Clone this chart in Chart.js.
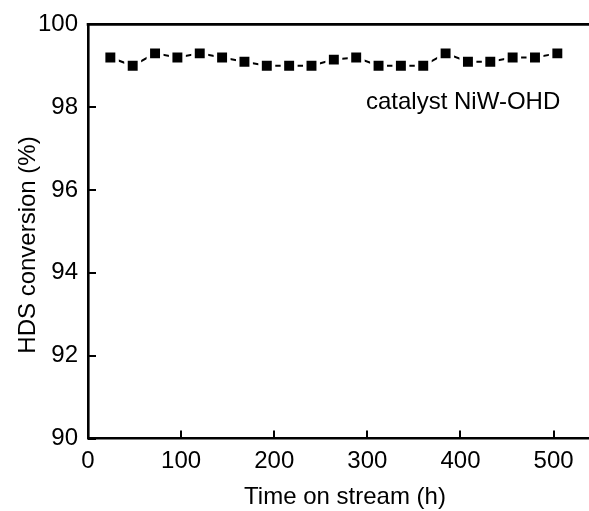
<!DOCTYPE html>
<html>
<head>
<meta charset="utf-8">
<script src="https://cdn.jsdelivr.net/npm/chart.js@4"></script>
<style>
  html, body { margin: 0; padding: 0; background: #fff; }
  canvas { display: block; }
</style>
</head>
<body>
<canvas id="chart" width="589" height="511"></canvas>
<script>
// Time on stream (h) and HDS conversion (%) for catalyst NiW-OHD
const hours = [24, 48, 72, 96, 120, 144, 168, 192, 216, 240, 264, 288, 312, 336, 360, 384, 408, 432, 456, 480, 504];
const conversion = [99.2, 99.0, 99.3, 99.2, 99.3, 99.2, 99.1, 99.0, 99.0, 99.0, 99.15, 99.2, 99.0, 99.0, 99.0, 99.3, 99.1, 99.1, 99.2, 99.2, 99.3];
const xTicks = [0, 100, 200, 300, 400, 500];
const yTicks = [90, 92, 94, 96, 98, 100];
const xTitle = 'Time on stream (h)';
const yTitle = 'HDS conversion (%)';
const seriesLabel = 'catalyst NiW-OHD';

const FONT = "'Liberation Sans', Arial, Helvetica, sans-serif";

// Frame top edge, inward tick marks, axis titles and the in-plot label
const frame = {
  id: 'frame',
  afterDraw(chart) {
    const { ctx, chartArea: a, scales: { x, y } } = chart;
    ctx.save();
    ctx.strokeStyle = '#000';
    ctx.lineWidth = 2.6;
    ctx.beginPath();
    ctx.moveTo(a.left - 1.3, a.top);
    ctx.lineTo(a.right + 2, a.top);
    ctx.stroke();

    ctx.lineWidth = 2;
    ctx.beginPath();
    xTicks.forEach(v => {
      const px = Math.round(x.getPixelForValue(v));
      ctx.moveTo(px, a.bottom);
      ctx.lineTo(px, a.bottom - 8);
    });
    yTicks.forEach(v => {
      const py = Math.round(y.getPixelForValue(v));
      ctx.moveTo(a.left, py);
      ctx.lineTo(a.left + 8, py);
    });
    ctx.stroke();

    ctx.fillStyle = '#000';
    ctx.font = '24px ' + FONT;
    ctx.textBaseline = 'middle';
    ctx.textAlign = 'left';
    ctx.fillText(seriesLabel, x.getPixelForValue(298.5), y.getPixelForValue(98.11));

    ctx.textAlign = 'center';
    ctx.fillText(xTitle, 345, 497);
    ctx.translate(28, 245);
    ctx.rotate(-Math.PI / 2);
    ctx.fillText(yTitle, 0, 0);
    ctx.restore();
  }
};

new Chart(document.getElementById('chart'), {
  type: 'line',
  data: {
    datasets: [{
      label: seriesLabel,
      data: hours.map((h, i) => ({ x: h, y: conversion[i] })),
      borderColor: '#000',
      borderWidth: 2,
      pointStyle: 'rect',
      pointRadius: 9.5,
      pointHoverRadius: 9.5,
      pointBackgroundColor: '#000',
      pointBorderColor: '#fff',
      pointBorderWidth: 3.5,
      tension: 0,
      clip: false
    }]
  },
  options: {
    responsive: false,
    animation: false,
    events: [],
    layout: { autoPadding: false, padding: { top: 21, right: 0, bottom: 0, left: 0 } },
    plugins: { legend: { display: false }, tooltip: { enabled: false } },
    scales: {
      x: {
        type: 'linear',
        min: 0,
        max: 538,
        afterBuildTicks: s => { s.ticks = xTicks.map(v => ({ value: v })); },
        afterFit: s => { s.height = 72.5; s.paddingLeft = 0; s.paddingRight = 0; },
        grid: { display: false, drawTicks: false },
        border: { display: true, color: '#000', width: 2.6 },
        ticks: {
          color: '#000',
          padding: 8,
          maxRotation: 0,
          font: { family: FONT, size: 24 }
        }
      },
      y: {
        min: 90,
        max: 100,
        afterBuildTicks: s => { s.ticks = yTicks.map(v => ({ value: v })); },
        afterFit: s => { s.width = 88; },
        grid: { display: false, drawTicks: false },
        border: { display: true, color: '#000', width: 2.6 },
        ticks: {
          color: '#000',
          padding: 10,
          font: { family: FONT, size: 24 }
        }
      }
    }
  },
  plugins: [frame]
});
</script>
</body>
</html>
